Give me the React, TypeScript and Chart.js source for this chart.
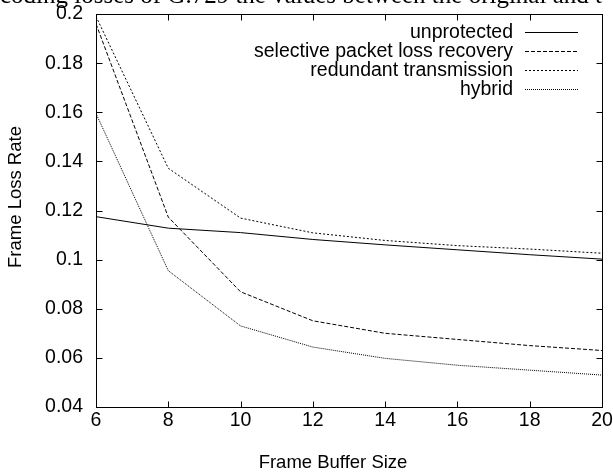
import React, { useEffect, useRef } from "react";
import { Chart, registerables } from "chart.js";
Chart.register(...registerables);

const bufferSizes = [6, 8, 10, 12, 14, 16, 18, 20];
const unprotected = [0.1175, 0.1128, 0.111, 0.1082, 0.106, 0.104, 0.102, 0.1002];
const selective = [0.196, 0.1173, 0.0869, 0.0751, 0.07, 0.0675, 0.065, 0.063];
const redundant = [0.199, 0.1372, 0.1169, 0.1109, 0.1078, 0.1057, 0.1043, 0.1026];
const hybrid = [0.1595, 0.0955, 0.073, 0.0644, 0.0598, 0.057, 0.055, 0.053];

const seriesNames = ["unprotected", "selective packet loss recovery", "redundant transmission", "hybrid"];
const seriesDashes: number[][] = [[], [4, 2], [2, 2], [1, 1]];
const xTicks = [6, 8, 10, 12, 14, 16, 18, 20];
const yTicks = [0.04, 0.06, 0.08, 0.1, 0.12, 0.14, 0.16, 0.18, 0.2];
const headerText = "coding losses of G.729 the values between the original and t";
const xTitle = "Frame Buffer Size";
const yTitle = "Frame Loss Rate";

const SANS = '"Liberation Sans", Arial, sans-serif';

const overlay = {
  id: "overlay",
  afterDraw(chart: any) {
    const { ctx, chartArea: a, scales } = chart;
    const xs = scales.x;
    const ys = scales.y;
    ctx.save();
    ctx.strokeStyle = "#000";
    ctx.lineWidth = 1;
    ctx.setLineDash([]);
    const L = Math.round(a.left) + 0.5;
    const R = Math.round(a.right) + 0.5;
    const T = Math.round(a.top) + 0.5;
    const B = Math.round(a.bottom) + 0.5;
    ctx.strokeRect(L, T, R - L, B - T);
    ctx.beginPath();
    for (const v of xTicks) {
      const px = Math.round(xs.getPixelForValue(v)) + 0.5;
      ctx.moveTo(px, B);
      ctx.lineTo(px, B - 6);
      ctx.moveTo(px, T);
      ctx.lineTo(px, T + 6);
    }
    for (const v of yTicks) {
      const py = Math.round(ys.getPixelForValue(v)) + 0.5;
      ctx.moveTo(L, py);
      ctx.lineTo(L + 6, py);
      ctx.moveTo(R, py);
      ctx.lineTo(R - 6, py);
    }
    ctx.stroke();

    // legend
    ctx.fillStyle = "#000";
    ctx.font = "19.5px " + SANS;
    ctx.textAlign = "right";
    ctx.textBaseline = "middle";
    const rows = [32, 51, 70, 89];
    seriesNames.forEach((n, i) => {
      const y = rows[i];
      ctx.fillText(n, 513, y + 1);
      ctx.beginPath();
      ctx.setLineDash(seriesDashes[i]);
      ctx.moveTo(525, y + 0.5);
      ctx.lineTo(578, y + 0.5);
      ctx.stroke();
    });
    ctx.setLineDash([]);

    // axis titles
    ctx.font = "18.5px " + SANS;
    ctx.textAlign = "center";
    ctx.fillText(xTitle, 333, 463);
    ctx.save();
    ctx.translate(16, 197);
    ctx.rotate(-Math.PI / 2);
    ctx.fillText(yTitle, 0, 0);
    ctx.restore();

    // header text (clipped document text)
    ctx.font = '25px "Liberation Serif", "Times New Roman", serif';
    ctx.textAlign = "left";
    ctx.textBaseline = "alphabetic";
    ctx.fillText(headerText, 0, 3);
    ctx.restore();
  },
};

export default function App() {
  const ref = useRef<HTMLCanvasElement | null>(null);
  useEffect(() => {
    if (!ref.current) return;
    const mk = (arr: number[]) => bufferSizes.map((x, i) => ({ x, y: arr[i] }));
    const all = [unprotected, selective, redundant, hybrid];
    const chart = new Chart(ref.current, {
      type: "line",
      data: {
        datasets: all.map((arr, i) => ({
          label: seriesNames[i],
          data: mk(arr),
          borderColor: "#000",
          borderWidth: 1,
          borderDash: seriesDashes[i],
          pointRadius: 0,
          fill: false,
          tension: 0,
        })),
      },
      options: {
        responsive: false,
        animation: false,
        events: [],
        layout: { padding: { top: 14, right: 11, left: 0, bottom: 0 } },
        plugins: { legend: { display: false }, tooltip: { enabled: false } },
        scales: {
          x: {
            type: "linear",
            min: 6,
            max: 20,
            grid: { display: false, drawTicks: false },
            border: { display: false },
            afterFit: (s: any) => {
              s.height = 65;
              s.paddingLeft = 0;
              s.paddingRight = 0;
            },
            afterBuildTicks: (s: any) => { s.ticks = xTicks.map((v) => ({ value: v })); },
            ticks: {
              color: "#000",
              font: { family: SANS, size: 19.5 },
              padding: 2,
              maxRotation: 0,
              autoSkip: false,
              callback: (v: any) => String(v),
            },
          },
          y: {
            type: "linear",
            min: 0.04,
            max: 0.2,
            grid: { display: false, drawTicks: false },
            border: { display: false },
            afterFit: (s: any) => {
              s.width = 96;
              s.paddingTop = 0;
              s.paddingBottom = 0;
            },
            afterBuildTicks: (s: any) => { s.ticks = yTicks.map((v) => ({ value: v })); },
            ticks: {
              color: "#000",
              font: { family: SANS, size: 19.5 },
              padding: 13,
              autoSkip: false,
              callback: (v: any) => String(parseFloat(Number(v).toFixed(2))),
            },
          },
        },
      },
      plugins: [overlay],
    });
    return () => chart.destroy();
  }, []);
  return (
    <div style={{ position: "fixed", left: 0, top: 0, width: 613, height: 472, background: "#fff" }}>
      <canvas ref={ref} width={613} height={472} style={{ display: "block" }} />
    </div>
  );
}
